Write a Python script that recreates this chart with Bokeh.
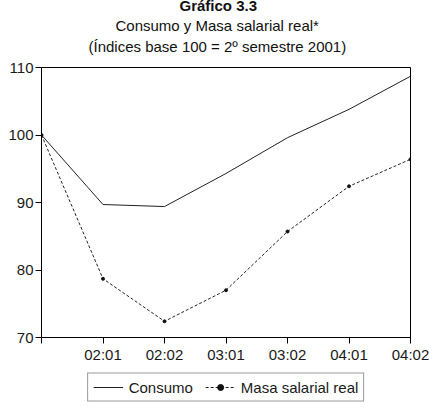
from bokeh.plotting import figure
from bokeh.layouts import column
from bokeh.models import Legend, LegendItem, Title, FixedTicker, Range1d
from bokeh.embed import file_html
from bokeh.resources import INLINE

periodos = ["01:02", "02:01", "02:02", "03:01", "03:02", "04:01", "04:02"]
consumo = [100.0, 89.7, 89.4, 94.3, 99.6, 103.8, 108.7]
masa_salarial = [100.0, 78.7, 72.4, 77.0, 85.7, 92.4, 96.4]
y_ticks = [70, 80, 90, 100, 110]
series_names = ["Consumo", "Masa salarial real"]

FONT = "Liberation Sans"
x = list(range(len(periodos)))

p = figure(frame_width=369, frame_height=270, output_backend="svg", toolbar_location=None,
           x_range=Range1d(0, len(periodos) - 1), y_range=Range1d(70, 110),
           min_border_left=41, min_border_right=19, min_border_top=0,
           min_border_bottom=30)
p.xgrid.visible = False
p.ygrid.visible = False
p.outline_line_color = "black"
p.outline_line_width = 1
p.background_fill_color = "white"
p.border_fill_color = "white"

for ax in (p.xaxis[0], p.yaxis[0]):
    ax.axis_line_color = "black"
    ax.major_tick_line_color = "black"
    ax.major_tick_in = 0
    ax.major_tick_out = 6
    ax.minor_tick_line_color = None
    ax.major_label_text_font = FONT
    ax.major_label_text_font_size = "15px"
    ax.major_label_text_color = "#1a1a1a"
    ax.major_label_standoff = 2

p.xaxis.ticker = FixedTicker(ticks=x)
p.xaxis.major_label_overrides = {0: ""} | {i: periodos[i] for i in x[1:]}
p.yaxis.ticker = FixedTicker(ticks=y_ticks)

p.line(x, consumo, line_color="#222222", line_width=1)
p.line(x, masa_salarial, line_color="#222222", line_width=1, line_dash="3 2")
p.scatter(x, masa_salarial, size=3, color="#111111")

# spacer between titles and plot frame
p.add_layout(Title(text=" ", text_font_size="2px", standoff=14), "above")
titles = [("(Índices base 100 = 2º semestre 2001)", "normal", -10, 47),
          ("Consumo y Masa salarial real*", "normal", 14, 74),
          ("Gráfico 3.3", "bold", -12, 138)]
for txt, style, sd, off in titles:
    p.add_layout(Title(text=txt, align="left", offset=off, text_font=FONT,
                       text_font_size="15px", text_font_style=style,
                       text_color="#111111", standoff=sd), "above")

# legend strip below the chart
q = figure(frame_width=369, frame_height=40, output_backend="svg", toolbar_location=None,
           x_range=Range1d(100, 101), y_range=Range1d(0, 1),
           min_border_left=41, min_border_right=19, min_border_top=0,
           min_border_bottom=0, outline_line_color=None)
q.axis.visible = False
q.grid.visible = False
q1 = q.line(x, consumo, line_color="#222222", line_width=1)
q2 = q.line(x, masa_salarial, line_color="#222222", line_width=1, line_dash="3 2")
q3 = q.scatter(x, masa_salarial, size=3, color="#111111")
legend = Legend(items=[LegendItem(label=series_names[0], renderers=[q1]),
                       LegendItem(label=series_names[1], renderers=[q2, q3])],
                orientation="horizontal", location="center",
                label_text_font=FONT, label_text_font_size="15px",
                label_text_color="#1a1a1a", label_height=15,
                border_line_color="#333333", border_line_width=1,
                glyph_width=30, glyph_height=15, label_standoff=6,
                spacing=12, padding=5, margin=0)
q.add_layout(legend, "center")

layout = column(p, q, spacing=0)
open("out.html", "w").write(file_html(layout, INLINE))
